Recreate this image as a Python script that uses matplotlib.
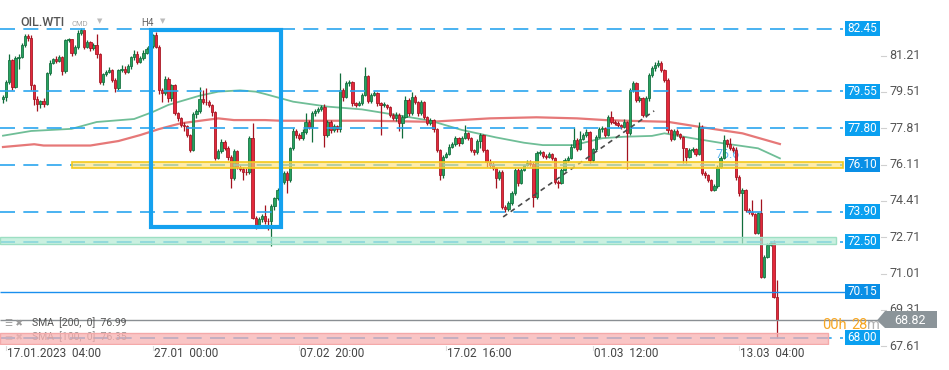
import matplotlib
matplotlib.use('Agg')
import matplotlib.pyplot as plt
from matplotlib.patches import Rectangle, Polygon
import numpy as np

plt.rcParams['font.family'] = ['Roboto', 'DejaVu Sans']

# ---------------- data (OIL.WTI, H4) ----------------
first_open = 79.18
closes = [
    79.29, 79.96, 81.00, 79.76, 81.08, 81.15, 81.70, 82.10, 82.05, 79.83,
    79.18, 78.93, 79.08, 78.95, 80.38, 80.85, 81.05, 80.95, 81.13, 80.49,
    81.94, 81.96, 81.32, 81.60, 82.25, 82.40, 81.63, 81.85, 81.55, 81.70,
    81.27, 79.99, 80.33, 80.45, 80.55, 80.07, 79.68, 80.53, 80.60, 80.45,
    80.70, 81.13, 81.30, 80.90, 81.10, 81.35, 81.50, 81.65, 82.17, 81.63,
    79.60, 79.44, 80.10, 79.20, 79.83, 78.51, 78.30, 77.96, 77.90, 77.50,
    76.79, 78.46, 78.60, 79.18, 79.05, 79.02, 78.90, 78.55, 76.43, 76.75,
    77.18, 76.90, 76.48, 75.50, 76.75, 76.01, 75.90, 75.78, 75.75, 77.37,
    73.63, 73.29, 73.55, 73.70, 73.47, 73.45, 74.15, 74.53, 74.90, 75.31,
    75.70, 75.40, 76.87, 77.68, 77.50, 77.35, 77.65, 78.12, 77.85, 78.50,
    78.60, 78.72, 78.80, 77.50, 78.12, 77.72, 77.90, 77.75, 79.60, 79.25,
    79.91, 79.95, 78.98, 78.90, 78.97, 79.36, 80.25, 79.10, 79.37, 79.45,
    78.97, 78.90, 78.90, 78.80, 78.43, 78.30, 78.45, 78.04, 78.35, 79.13,
    78.50, 79.29, 79.05, 78.50, 79.05, 78.35, 78.04, 78.20, 77.76, 76.79,
    75.62, 76.48, 76.60, 76.95, 77.05, 77.34, 77.10, 77.35, 77.57, 77.35,
    76.79, 76.70, 77.20, 77.49, 76.80, 76.25, 76.10, 75.95, 75.47, 75.75,
    74.14, 74.05, 74.30, 74.76, 75.86, 75.23, 75.86, 76.09, 76.20, 76.15,
    74.61, 76.64, 76.70, 76.50, 76.45, 76.60, 76.40, 75.31, 75.27, 75.86,
    76.32, 76.40, 76.95, 77.26, 76.82, 77.30, 77.50, 77.65, 76.32, 76.82,
    77.42, 77.76, 77.80, 77.49, 78.35, 78.10, 78.05, 77.95, 77.85, 78.10,
    77.60, 79.60, 79.91, 79.13, 79.20, 78.43, 79.20, 80.30, 80.61, 80.77,
    80.85, 80.55, 80.07, 77.72, 77.30, 77.68, 77.55, 77.40, 76.87, 76.48,
    76.80, 76.85, 76.60, 77.88, 75.70, 75.60, 75.39, 74.92, 75.10, 76.01,
    76.40, 77.26, 77.05, 76.90, 76.80, 75.55, 74.77, 74.90, 73.99, 73.90,
    73.80, 72.90, 73.83, 70.87, 71.80, 72.35, 72.45, 69.90, 68.82,
]
highs = [
    79.35, 80.05, 81.27, 81.05, 81.20, 81.30, 81.80, 82.20, 82.20, 82.15,
    79.90, 79.30, 79.15, 79.20, 80.45, 81.00, 81.10, 81.20, 81.25, 81.20,
    81.98, 82.05, 82.00, 81.70, 82.40, 82.50, 82.35, 81.95, 81.90, 81.80,
    82.20, 81.35, 80.40, 80.55, 80.65, 80.60, 80.15, 80.60, 80.75, 80.70,
    80.80, 81.20, 81.45, 81.40, 81.20, 81.45, 81.60, 81.75, 82.20, 82.33,
    81.70, 79.70, 80.25, 80.20, 79.90, 79.90, 78.55, 78.35, 78.10, 77.95,
    77.55, 78.55, 78.70, 79.76, 79.60, 79.70, 79.15, 78.95, 78.60, 76.85,
    77.30, 77.25, 77.00, 76.55, 76.85, 76.80, 76.10, 76.00, 75.95, 77.45,
    78.04, 73.70, 73.65, 73.80, 74.22, 73.60, 74.25, 74.60, 75.00, 75.40,
    75.80, 75.80, 76.95, 77.80, 77.75, 77.60, 77.75, 78.50, 78.20, 78.60,
    78.70, 78.80, 78.90, 78.95, 78.20, 78.20, 78.00, 77.95, 80.41, 79.70,
    80.00, 80.05, 80.00, 79.05, 79.10, 79.45, 80.69, 80.30, 79.45, 79.55,
    79.50, 79.05, 79.05, 78.95, 78.85, 78.50, 78.55, 78.50, 78.45, 79.30,
    79.20, 79.50, 79.35, 79.10, 79.15, 79.10, 78.40, 78.30, 78.25, 77.80,
    76.85, 76.55, 76.70, 77.05, 77.15, 77.45, 77.40, 77.45, 77.95, 77.65,
    77.40, 76.85, 77.30, 77.60, 77.55, 76.85, 76.35, 76.25, 76.00, 75.85,
    75.85, 74.20, 74.40, 74.85, 75.95, 75.95, 75.95, 76.15, 76.30, 76.30,
    76.25, 76.75, 76.80, 76.75, 76.60, 76.70, 76.65, 76.45, 75.40, 75.95,
    76.40, 76.50, 77.05, 77.85, 77.35, 77.70, 77.60, 77.75, 77.70, 76.90,
    77.50, 77.85, 77.90, 77.85, 78.45, 78.63, 78.20, 78.15, 78.00, 78.25,
    78.15, 79.70, 80.00, 79.95, 79.30, 79.25, 79.30, 80.40, 80.70, 80.90,
    81.00, 80.95, 80.60, 80.15, 77.75, 77.75, 77.75, 77.60, 77.45, 76.90,
    76.90, 76.95, 76.90, 78.12, 77.95, 75.80, 75.65, 75.45, 75.20, 76.10,
    76.50, 77.49, 77.30, 77.35, 77.00, 76.95, 75.60, 75.00, 74.95, 74.10,
    74.45, 73.85, 73.90, 74.50, 71.90, 72.45, 72.55, 72.60, 70.71,
]
lows = [
    78.98, 79.10, 79.90, 79.60, 79.70, 80.60, 81.10, 81.60, 81.90, 79.60,
    78.90, 78.60, 78.75, 78.80, 78.90, 80.30, 80.80, 80.85, 80.90, 80.30,
    80.40, 81.85, 81.20, 81.25, 81.50, 82.15, 81.50, 81.55, 81.40, 81.45,
    81.10, 79.90, 79.85, 80.25, 80.40, 79.95, 79.52, 79.60, 80.45, 80.35,
    80.40, 80.60, 81.00, 80.80, 80.85, 81.00, 81.30, 81.40, 81.55, 81.55,
    79.40, 79.05, 79.35, 79.05, 79.10, 78.45, 78.15, 77.85, 77.70, 77.40,
    76.70, 76.75, 78.30, 78.50, 78.95, 78.90, 78.80, 78.40, 76.30, 76.35,
    76.65, 76.80, 76.30, 75.03, 75.40, 75.90, 75.80, 75.40, 75.60, 75.65,
    73.55, 73.10, 73.20, 73.40, 73.35, 73.05, 72.30, 74.00, 74.45, 74.80,
    75.20, 74.77, 75.30, 76.80, 77.35, 77.25, 77.25, 77.55, 77.75, 77.18,
    78.40, 78.50, 78.60, 76.95, 77.40, 77.60, 77.65, 77.65, 77.65, 79.10,
    79.20, 79.80, 78.85, 78.80, 78.85, 78.90, 79.30, 79.00, 79.00, 79.30,
    78.85, 77.50, 78.80, 78.70, 78.35, 78.20, 78.15, 77.70, 77.34, 78.30,
    78.40, 78.45, 78.95, 78.40, 78.45, 78.25, 77.95, 77.95, 77.65, 76.70,
    75.39, 75.50, 76.40, 76.55, 76.90, 77.00, 77.00, 77.05, 77.30, 77.25,
    76.70, 76.55, 76.60, 76.90, 76.70, 76.00, 75.95, 75.85, 75.00, 75.40,
    74.05, 73.90, 73.95, 74.20, 74.70, 75.10, 75.20, 75.80, 76.05, 76.05,
    74.14, 74.50, 76.55, 76.40, 76.35, 76.40, 76.30, 75.20, 75.00, 75.20,
    75.80, 76.25, 76.35, 76.90, 76.75, 76.80, 77.25, 77.40, 76.20, 76.25,
    76.75, 77.35, 77.65, 77.40, 77.45, 78.00, 77.95, 77.85, 77.75, 77.80,
    75.89, 77.50, 79.50, 79.05, 79.05, 78.35, 78.35, 79.10, 80.20, 80.50,
    80.65, 80.45, 79.95, 77.60, 77.20, 77.25, 77.45, 77.30, 76.17, 76.20,
    76.40, 76.70, 76.50, 76.55, 75.60, 75.50, 75.30, 74.85, 74.85, 75.00,
    75.95, 76.35, 76.95, 76.80, 76.70, 75.40, 74.65, 72.45, 73.90, 73.80,
    73.70, 72.85, 72.85, 70.80, 70.80, 71.75, 72.30, 69.85, 67.98,
]

# moving averages (bar position, value)
sma100_bar = [0, 9, 22, 30, 42, 48, 53, 63, 69, 76, 81, 84, 93, 104, 115, 126,
              137, 147, 158, 167, 173, 183, 192, 199, 208, 212, 221, 231, 242, 249]
sma100 = [77.46, 77.68, 77.78, 78.10, 78.24, 78.57, 78.90, 79.33, 79.52, 79.58,
          79.52, 79.41, 79.05, 78.82, 78.69, 78.43, 78.16, 77.73, 77.38, 77.13,
          77.02, 77.02, 77.34, 77.41, 77.45, 77.57, 77.34, 77.10, 76.87, 76.40]
sma200_bar = [0, 10, 13, 28, 37, 44, 50, 57, 69, 74, 84, 89, 117, 137, 156,
              171, 184, 193, 202, 213, 226, 237, 249]
sma200 = [76.93, 77.06, 77.00, 77.00, 77.21, 77.49, 77.77, 78.04, 78.27, 78.19,
          78.19, 78.16, 78.16, 78.11, 78.27, 78.32, 78.27, 78.19, 78.15, 78.11,
          77.81, 77.57, 77.07]

level_prices = [82.45, 79.55, 77.80, 76.10, 73.90, 72.50, 68.00]
line_price = 70.15
last_price = 68.82
axis_prices = [81.21, 79.51, 77.81, 76.11, 74.41, 72.71, 71.01, 69.31, 67.61]
time_bars = [1, 48, 95, 142, 189, 236]
time_labels = ['17.01.2023  04:00', '27.01  00:00', '07.02  20:00',
               '17.02  16:00', '01.03  12:00', '13.03  04:00']
zone_yellow = (75.93, 76.23)
zone_green = (72.38, 72.72)
zone_red = (67.72, 68.25)
box_bars = (47.4, 89.0)
box_prices = (73.19, 82.40)
trend_bars = [160.3, 208.7]
trend_prices = [73.66, 78.62]

assert len(closes) == len(highs) == len(lows)

# ---------------- layout helpers (pixel -> data) ----------------
W, H = 949, 370
STEP = 3.12


def bx(px):
    return (px - 3) / STEP


def by(py):
    return 82.45 - (py - 29) / 21.38


fig = plt.figure(figsize=(W / 100, H / 100), dpi=100)
ax = fig.add_axes([0, 25 / H, 1, 345 / H])
ax.set_xlim(bx(0), bx(W))
ax.set_ylim(by(345), by(0))
ax.axis('off')

# ---------------- candles ----------------
c = np.array(closes)
o = np.array([first_open] + closes[:-1])
hi = np.array(highs)
lo = np.array(lows)
x = np.arange(len(c))
up = c >= o
for mask, face, edge in [(up, '#27a25f', '#106d3b'), (~up, '#e3283b', '#a3121f')]:
    ax.vlines(x[mask], lo[mask], hi[mask], color=edge, lw=0.9, zorder=3)
    ax.bar(x[mask], np.maximum(np.abs(c - o)[mask], 0.03),
           bottom=np.minimum(o, c)[mask], width=0.74, color=face,
           edgecolor=edge, linewidth=0.55, zorder=3)

# moving averages
ax.plot(sma200_bar, sma200, color='#e67878', lw=1.6, zorder=2)
ax.plot(sma100_bar, sma100, color='#6fbe97', lw=1.3, zorder=2)

# zones
ax.add_patch(Rectangle((bx(72), zone_yellow[0]), bx(843) - bx(72),
                       zone_yellow[1] - zone_yellow[0], fc=(0.99, 0.88, 0.45, 0.6),
                       ec='#f3c91c', lw=1.2, zorder=5))
ax.add_patch(Rectangle((bx(0), zone_green[0]), bx(836) - bx(0),
                       zone_green[1] - zone_green[0], fc=(0.70, 0.92, 0.83, 0.7),
                       ec='#9ddfc3', lw=1.0, zorder=5))

# level lines
ax.hlines(level_prices, bx(0), bx(843), colors='#2aa6ef', lw=1.2,
          linestyles=(0, (9, 5)), zorder=4)
ax.hlines(line_price, bx(0), bx(845), colors='#1a8fee', lw=1.0, zorder=4)
ax.hlines(last_price, bx(0), bx(878), colors='#8a8f93', lw=1.0, zorder=4)

# bottom-left indicator legend (sits under the red zone)
ax.text(bx(5), by(323), '☰ ✖', fontsize=6.5, color='#9a9a9a', va='center', zorder=4)
ax.text(bx(32), by(323), 'SMA  [200,  0]  76.99', fontsize=7.5, color='#555555',
        va='center', zorder=4)
ax.text(bx(5), by(337), '☰ ✖', fontsize=6.5, color='#b5b5b5', va='center', zorder=4)
ax.text(bx(32), by(337), 'SMA  [100,  0]  76.35', fontsize=7.5, color='#8a8a8a',
        va='center', zorder=4)

ax.add_patch(Rectangle((bx(0), zone_red[0]), bx(828) - bx(0),
                       zone_red[1] - zone_red[0], fc=(0.97, 0.68, 0.68, 0.7),
                       ec='#f4a9a9', lw=1.0, zorder=6))

# analysis box and trend line
ax.add_patch(Rectangle((box_bars[0], box_prices[0]), box_bars[1] - box_bars[0],
                       box_prices[1] - box_prices[0], fill=False, ec='#14a1ef',
                       lw=3, zorder=7))
ax.plot(trend_bars, trend_prices, color='#4a4a4a', lw=1.2,
        linestyle=(0, (3, 2.5)), zorder=4)
ax.text(bx(728), by(155), '76.6', color='#58b6f2', fontsize=9, ha='center',
        va='center', zorder=2.5)

# right price scale (69.31 sits partly behind the current-price tag, as in the source)
for p in axis_prices:
    ax.text(bx(889), p, f'{p:.2f}', fontsize=9, color='#555555', va='center',
            ha='left', clip_on=False, zorder=3)
    ax.plot([bx(881), bx(886)], [p, p], color='#d0d0d0', lw=0.8, clip_on=False)

# level price tags
tag_h = 15 / 21.38
for p in level_prices + [line_price]:
    col = '#0a8fe6' if p in (76.10, 70.15) else '#0aa0f0'
    ax.add_patch(Rectangle((bx(845), p - tag_h / 2), bx(880) - bx(845), tag_h,
                           fc=col, ec='none', zorder=8, clip_on=False))
    ax.text(bx(862.5), p, f'{p:.2f}', color='white', fontsize=8.5, ha='center',
            va='center', zorder=9)

# current price tag
ax.add_patch(Polygon([(bx(877), last_price), (bx(885), by(311)), (bx(937), by(311)),
                      (bx(937), by(328)), (bx(885), by(328))],
                     closed=True, fc='#8b9499', ec='none', zorder=8, clip_on=False))
ax.text(bx(910), last_price, f'{last_price:.2f}', color='white', fontsize=9,
        ha='center', va='center', zorder=9)
ax.text(bx(822), by(325), '00h', color='#f6a623', fontsize=10.5, va='center', zorder=9)
ax.text(bx(851), by(325), '28', color='#f6a623', fontsize=10.5, va='center', zorder=9)
ax.text(bx(867), by(325), 'm', color='#b0b0b0', fontsize=10.5, va='center', zorder=9)

# time axis
xt = ax.get_xaxis_transform()
for b, lab in zip(time_bars, time_labels):
    ax.plot([b, b], [-0.003, -0.015], color='#dddddd', lw=0.8, transform=xt,
            clip_on=False)
    ax.text(b + 0.3, -0.024, lab, transform=xt, fontsize=8.5, color='#444444',
            ha='left', va='center', clip_on=False)

# header
fig.text(20 / W, 1 - 23 / H, 'OIL.WTI', fontsize=9, color='#555555',
         fontweight='medium', va='center')
fig.text(72 / W, 1 - 24 / H, 'CMD', fontsize=5.5, color='#a8a8a8', va='center')
fig.text(97 / W, 1 - 22 / H, '▼', fontsize=5, color='#bbbbbb', va='center')
fig.text(141 / W, 1 - 23 / H, 'H4', fontsize=7, color='#666666', va='center')
fig.text(160 / W, 1 - 22 / H, '▼', fontsize=5, color='#bbbbbb', va='center')

fig.savefig('out.png', dpi=100, facecolor='white')
